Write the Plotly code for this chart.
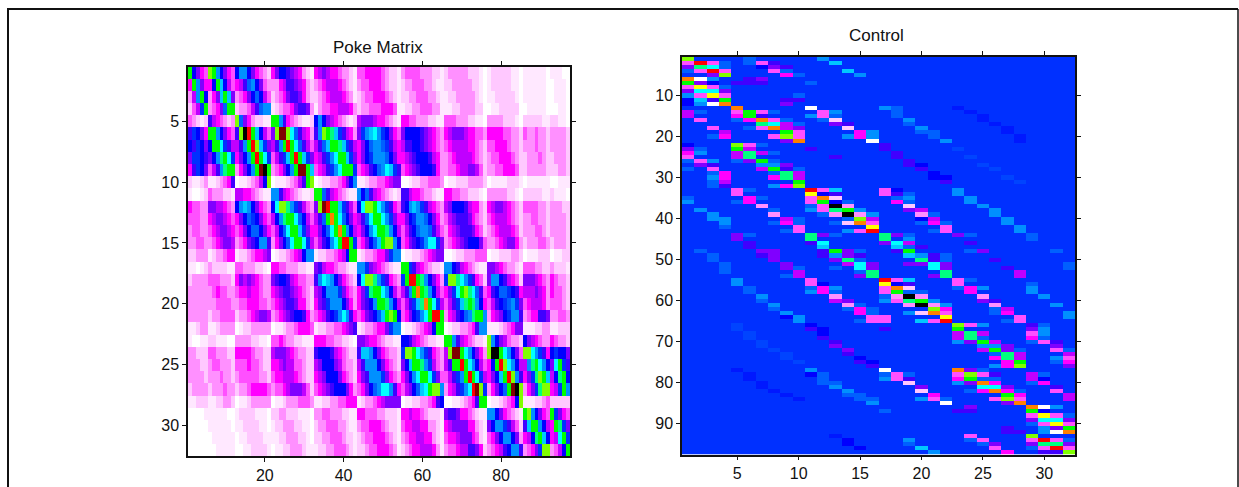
import plotly.graph_objects as go

# Colour levels shared by both panels, low to high
LEVEL_CHARS = "0123456789naobcdefghijklm"
LEVEL_COLORS = ["#ffffff", "#ffe8ff", "#ffc8ff", "#ff90ff", "#ff50ff", "#ff00ff", "#c000ff", "#8000ff",
                "#4000ff", "#0000ff", "#0018ff", "#0030ff", "#0044ff", "#0060ff", "#0090ff", "#00c8ff", "#00ffff", "#00ff80",
                "#00ff00", "#80ff00", "#ffff00", "#ff8000", "#ff0000", "#800000", "#000000"]

# Poke Matrix: 32 rows x 97 columns, level read per cell (spaces only separate column blocks)
poke_rows = [
"g9754 hgc9754 9cc975432 57998765321 56765543321 44555543221 34444333221 23333322210 122222110 1111110 11100",
"5gc75 59gd964 568bc9743 33568876532 34566654321 34455543221 23344433211 22333332210 122222110 1111110 01110",
"36cg9 357dgd7 34579b964 23457887532 23456665431 23445554321 22334443321 12233333210 112222210 1111110 01110",
"246ag 3457bgg 233468bcc 12344578873 13445566653 23344455541 12233444331 11223333220 011222220 0111110 00110",
"43212 8654323 hb7532211 ggc85432112 9c976543212 67776554321 55443332211 44433322110 333322210 2222211 22110",
"8a975 ggc9754 8hmkgd964 7hllheb8653 8chgfda8653 7acdeca9754 79999876543 56777655443 555544332 4334332 33332",
"98a97 9ggea86 68cgkhda7 68cgkgeb864 68bdggfda86 579bccba865 68899876543 45666655432 445554332 3334332 33332",
"7aa98 79cfgea 579cgkgea 468adgkgda7 568aceggda7 579acccb975 56789998653 34566665432 344555432 2333432 23332",
"58a97 468cfgg 3579cglmg 34579cgllgd 4568aceggga 45689bceda8 45678999853 34456677642 334455542 2333332 22332",
"21123 1123458 01123469h 011123468gh 0122334579c 11233445677 00122334443 01122233332 011112221 0111111 00111",
"10012 4333221 665543211 cc865432112 ggb86543211 c9b86543212 88655433211 55443322210 333332210 2222211 21110",
"54433 7766543 9cdc97543 9ehhfca8643 7hlkggda864 9ehhgeca854 89cdca86543 67999865532 567765432 4444332 33322",
"44433 5677654 579ba9754 69cfggeb964 68bgjgeb975 68beggeca75 579accb9753 46788875432 456665432 3344332 33332",
"34433 4567765 4579bb975 469beggda75 579begjgc96 579ceggfc96 4689bccb864 35678887542 345666542 3334432 33332",
"33443 3456776 345789cc8 3579beggea6 4689cegkkga 4579bdghhc9 45789aceea7 34567899974 334567753 2333443 23332",
"22333 1233455 122345567 012234569cc 122334569gg 12334557acc 01122345677 00122333444 011222332 0111222 01122",
"11012 3222211 443332210 55443332211 78655433211 cca76543211 gga86543221 cc986543211 776543321 4443322 32221",
"23333 4443332 576765433 78998654433 8cedc975432 9ehhfca8543 agkkgfc9753 ahhfeca8542 7cc986542 7776543 54332",
"33333 3454433 455655433 56788765432 679ccca7543 57afggec964 68cgjgfc964 57aeghfeb84 589bba985 6667653 54432",
"33333 3344443 344555443 45678875532 578accc9753 5789cggfc96 468adfjgea6 468adfgfc95 4689abca7 4566653 44432",
"33333 2334444 233456776 34567899853 45689acec85 45789bdghg9 4579acegkkg 35689bcfggc 35679acc8 3455887 33443",
"11233 1123333 012233333 01123345554 12233445678 12334557acc 011234569gg 012233458cc 111234577 1112233 11222",
"10011 2211100 333322110 44543322111 55544332210 77655432211 99865432211 ggc86543221 hc9764332 9765433 54332",
"33222 4433322 555543322 67776543322 89998654322 8ddc9754332 ahhgeca8543 6hllgec9753 hmmgec974 hheca85 9a997",
"33322 3443332 444544322 55676644322 67999764332 68ccc975432 79dggfca643 68ggkgec964 59gkhec96 6cfgec9 7ega8",
"33332 3334332 344444332 45566654322 56799975432 578ccca7543 579ceggea74 468acgkgea6 579dgkhc8 57afhgd 69fg9",
"23333 2333433 233455554 34456777642 45678999753 4579bceec85 4679bdeghhc 3568aceklha 3579bglmh 357afhh 56agc",
"11222 1122332 011233333 01123334443 11223344555 12334567777 01122334589 001123458gg 01123459h 1112234 22222",
"00001 1111100 122221110 22332221110 33443332211 55444332221 55655432221 78875543211 cc9754321 ghc9754 ga754",
"00000 1111110 112222110 12233322110 23344433211 34455543221 45566553321 56777755321 79cca8642 8dggc96 5gfa7",
"00000 0111111 011222211 11223332210 22334443221 23445554321 34556655321 45567775421 4579cc973 569fgd9 56ega",
"00000 0011111 001122221 01122333211 12233444321 22344555431 23455666531 34456688752 345689cc8 3457ahh 3469g",
]

# Control: 97 rows x 32 columns; most cells sit at the blue level, the others are listed as column:level
CONTROL_BASE = "a"
control_cells = {
1: "1:h 6:b 12:c", 2: "1:4 2:k 3:4 4:b 6:b 7:4 8:8 13:d", 3: "1:7 2:f 3:e 4:b 7:9 8:7 9:8",
4: "1:b 2:4 3:k 4:4 8:4 9:b 14:d", 5: "3:7 4:h 9:5 10:b 15:c", 6: "1:j 2:0 3:c 6:8 7:7",
7: "1:g 2:7 3:9 5:8 6:8 7:8 11:b", 8: "1:4 2:i 3:4 4:b", 9: "1:7 2:e 3:e 4:7",
10: "1:c 2:4 3:i 4:4 10:b", 11: "1:9 2:d 3:8 4:g 9:8 10:8", 12: "1:9 2:c 3:0 4:j 9:7",
13: "5:j 11:0 17:c 18:b 23:n", 14: "1:6 2:b 5:4 6:g 7:4 8:b 12:4 13:c 18:b 24:n",
15: "1:6 5:5 6:g 7:8 11:c 12:4 13:b 18:b 25:n", 16: "2:4 5:b 6:5 7:j 8:4 9:b 12:b 13:2 19:c 25:n",
17: "7:f 8:e 9:6 10:b 13:7 14:8 19:b 26:n", 18: "3:4 6:b 7:4 8:j 9:6 10:7 14:2 20:c 27:n",
19: "4:6 9:g 10:4 15:5 16:c 20:b 21:b 27:n", 20: "3:b 4:5 8:4 9:h 10:4 14:c 15:5 16:c 21:b 28:n",
21: "9:7 10:j 16:0 22:c 28:n", 22: "1:9 5:h 6:4 7:b 17:8", 23: "1:7 2:b 5:g 6:6 11:8 17:8 23:o",
24: "1:5 2:c 5:6 6:f 7:6 8:b 18:8", 25: "1:4 5:6 6:f 13:8 18:8 24:o", 26: "1:b 2:4 3:c 5:b 6:7 7:g 8:b 19:8",
27: "2:7 3:8 7:c 8:c 9:7 19:8 20:9 25:o", 28: "1:b 3:4 7:6 8:g 9:8 10:b 20:8 26:o", 29: "3:b 4:5 8:b 9:f 10:6 21:9",
30: "3:c 4:5 8:5 9:f 10:6 21:9 22:9 27:o", 31: "3:b 4:6 10:g 22:8 28:o", 32: "3:b 4:8 8:c 9:5 10:h",
33: "5:4 6:b 11:k 12:4 13:d 17:4 18:9 23:c", 34: "5:4 11:i 12:9 13:8 17:4 18:8 19:b 23:c",
35: "1:b 6:5 7:b 11:4 12:j 13:2 18:b 19:c 24:c", 36: "1:c 5:b 6:5 11:4 12:g 13:9 14:b 18:5 19:b 24:c",
37: "7:3 11:b 12:4 13:m 14:3 19:2 25:c", 38: "2:c 8:b 11:c 12:4 13:f 14:g 15:c 19:7 20:6 26:c",
39: "3:c 8:3 12:b 13:3 14:m 15:3 16:c 20:3 21:b 26:c", 40: "3:c 4:c 9:6 10:b 14:b 15:h 16:6 20:9 21:6 27:c",
41: "4:c 8:b 9:5 10:b 13:b 14:2 15:j 16:4 20:b 21:5 22:b 27:c", 42: "4:b 10:4 16:i 22:4 28:c",
43: "9:b 10:4 14:c 15:4 16:k 21:b 22:4 28:c", 44: "5:7 6:b 11:f 12:7 13:b 17:f 18:7 19:b 23:7 24:b 29:b",
45: "5:7 11:f 17:f 19:c 29:b", 46: "6:8 11:8 12:e 17:7 18:e 19:6 24:8", 47: "6:8 12:d 18:d 19:b 20:8",
48: "2:b 7:7 8:7 12:8 13:g 14:7 15:b 18:8 19:g 24:b 25:7 31:b", 49: "3:b 7:8 8:7 12:8 13:c 14:7 15:8 19:d 20:c 21:8 22:b",
50: "3:b 8:7 13:7 14:f 15:b 20:f 21:8 22:b 26:8", 51: "4:b 9:7 14:6 15:e 16:7 19:7 20:7 21:e 22:7 32:b",
52: "4:b 9:7 10:b 13:b 15:e 16:7 21:e 22:7 27:8 32:b", 53: "4:b 10:6 15:b 16:f 22:f 28:6",
54: "9:b 10:6 15:7 16:f 21:7 22:f 28:6", 55: "5:c 11:4 17:k 18:4 19:d 23:4 24:b", 56: "5:c 11:4 12:9 17:i 18:9 19:8 23:4 29:b",
57: "6:b 11:b 12:5 13:c 17:4 18:j 19:2 23:b 24:5 25:c 29:c", 58: "6:b 11:c 12:5 13:b 17:4 18:g 19:b 20:b 24:5 29:c",
59: "7:c 13:3 17:b 18:3 19:m 20:3 25:3 30:c", 60: "7:b 13:6 14:7 17:c 18:4 19:f 20:g 21:c 25:7 26:8",
61: "8:c 14:3 15:b 19:3 20:m 21:3 22:c 26:3 31:c", 62: "8:b 14:b 15:5 16:b 20:a 21:h 22:5 26:b 27:6",
63: "9:c 15:5 16:b 19:c 20:2 21:j 22:4 26:b 27:5 32:c", 64: "9:9 10:c 16:4 17:4 22:i 28:4 32:c",
65: "10:c 15:b 16:4 17:4 20:d 21:4 22:k 27:b 28:4", 66: "5:o 11:9 23:h 24:4 25:c 29:8 30:b", 67: "5:o 11:8 12:9 17:8 23:g 29:7 30:c",
68: "6:o 12:9 23:6 24:f 25:6 29:4 30:c", 69: "6:o 12:8 23:6 24:f 25:b 29:5 30:b", 70: "7:o 13:8 23:c 24:7 25:g 26:6 29:b 30:4 31:8",
71: "7:o 13:7 25:c 26:c 27:7 31:7", 72: "8:o 14:7 25:6 26:g 27:7 28:b 31:4 32:b", 73: "9:o 14:8 26:b 27:f 28:6 32:6",
74: "9:o 15:9 26:5 27:f 28:6 31:c 32:4", 75: "10:o 15:8 16:9 27:5 28:g 31:b 32:5", 76: "16:8 26:c 27:5 28:h 32:7",
77: "5:n 11:c 17:0 23:j 24:7 25:b", 78: "6:n 11:9 12:b 17:b 18:4 19:b 23:4 24:h 25:4 26:8 29:6 30:b",
79: "6:n 12:b 17:c 18:4 19:8 23:5 24:g 25:b 26:b 29:6 30:9", 80: "7:n 12:b 13:b 19:2 23:c 24:7 25:j 26:5 29:b 30:5",
81: "7:n 13:c 20:7 25:e 26:e 27:7 31:8", 82: "8:n 14:c 20:2 24:b 25:5 26:j 27:5 28:b 31:4", 83: "9:n 14:b 15:b 21:5 27:g 28:5 32:6",
84: "10:n 15:b 16:b 20:c 21:4 22:b 26:4 27:h 28:4 32:6", 85: "16:c 22:0 27:7 28:j", 86: "24:7 29:j 30:0 31:c",
87: "17:b 23:8 24:8 29:g 30:9", 88: "29:4 30:i 31:4 32:b", 89: "29:7 30:e 31:e 32:7", 90: "29:b 30:4 31:i 32:4",
91: "27:8 30:c 31:7 32:g", 92: "27:8 28:8 30:c 31:0 32:j", 93: "13:n 24:4 29:h", 94: "14:9 19:c 24:b 25:4 29:4 30:k 31:4 32:b",
95: "14:9 19:b 25:b 26:7 29:7 30:f 31:f 32:7", 96: "15:9 20:d 26:4 29:b 30:4 31:k 32:4", 97: "21:c 27:5 30:8 31:8 32:h",
}

POKE_TITLE = "Poke Matrix"
CONTROL_TITLE = "Control"
poke_xticks = [20, 40, 60, 80]
poke_yticks = [5, 10, 15, 20, 25, 30]
control_xticks = [5, 10, 15, 20, 25, 30]
control_yticks = [10, 20, 30, 40, 50, 60, 70, 80, 90]

W, H = 1239, 487
FONT = dict(family="Liberation Sans, Arial, sans-serif", size=16, color="#111111")
TITLE_FONT = dict(family="Liberation Sans, Arial, sans-serif", size=17, color="#111111")

poke = [[LEVEL_CHARS.index(c) for c in r.replace(" ", "")] for r in poke_rows]
bad = [i + 1 for i, r in enumerate(poke) if len(r) != 97]
if bad or len(poke) != 32:
    raise ValueError(f"bad poke rows {bad}")

control = [[LEVEL_CHARS.index(CONTROL_BASE)] * 32 for _ in range(97)]
for row, cells in control_cells.items():
    for cell in cells.split():
        col, lev = cell.split(":")
        control[row - 1][int(col) - 1] = LEVEL_CHARS.index(lev)

n = len(LEVEL_COLORS) - 1
scale = [[i / n, c] for i, c in enumerate(LEVEL_COLORS)]


def hm(z, xa, ya):
    return go.Heatmap(z=z, x=list(range(1, len(z[0]) + 1)), y=list(range(1, len(z) + 1)),
                      colorscale=scale, zmin=0, zmax=n, showscale=False, xaxis=xa, yaxis=ya)


fig = go.Figure([hm(poke, "x", "y"), hm(control, "x2", "y2")])


def axis(ticks, rng, dom, anchor):
    return dict(tickmode="array", tickvals=ticks, ticktext=[str(t) for t in ticks], range=rng,
                domain=dom, anchor=anchor, ticks="outside", ticklen=4, tickwidth=1, tickcolor="#111111",
                showline=True, linecolor="#111111", linewidth=1.5, mirror="ticks", showgrid=False,
                zeroline=False, tickfont=FONT)


fx = lambda px: px / W
fy = lambda py: 1 - py / H

fig.update_layout(
    width=W, height=H, margin=dict(l=0, r=0, t=0, b=0, pad=0),
    paper_bgcolor="white", plot_bgcolor="white", showlegend=False,
    xaxis=axis(poke_xticks, [0.5, 97.5], [fx(188), fx(570)], "y"),
    yaxis=axis(poke_yticks, [32.5, 0.5], [fy(456), fy(66.5)], "x"),
    xaxis2=axis(control_xticks, [0.5, 32.5], [fx(682), fx(1075)], "y2"),
    yaxis2=axis(control_yticks, [97.5, 0.5], [fy(454.5), fy(56.5)], "x2"),
    annotations=[
        dict(text=POKE_TITLE, x=fx(378), y=fy(47), xref="paper", yref="paper", showarrow=False,
             xanchor="center", yanchor="middle", font=TITLE_FONT),
        dict(text=CONTROL_TITLE, x=fx(877), y=fy(36), xref="paper", yref="paper", showarrow=False,
             xanchor="center", yanchor="middle", font=TITLE_FONT),
    ],
    shapes=[
        dict(type="line", xref="paper", yref="paper", x0=fx(8), x1=fx(8), y0=0, y1=fy(9),
             line=dict(color="#111111", width=2)),
        dict(type="line", xref="paper", yref="paper", x0=fx(7), x1=fx(1238), y0=fy(9), y1=fy(9),
             line=dict(color="#111111", width=2)),
        dict(type="line", xref="paper", yref="paper", x0=fx(1238), x1=fx(1238), y0=0, y1=fy(9),
             line=dict(color="#111111", width=1.5)),
    ],
)

fig.write_html("out.html", config={"displayModeBar": False},
               post_script="document.body.style.margin='0';")
